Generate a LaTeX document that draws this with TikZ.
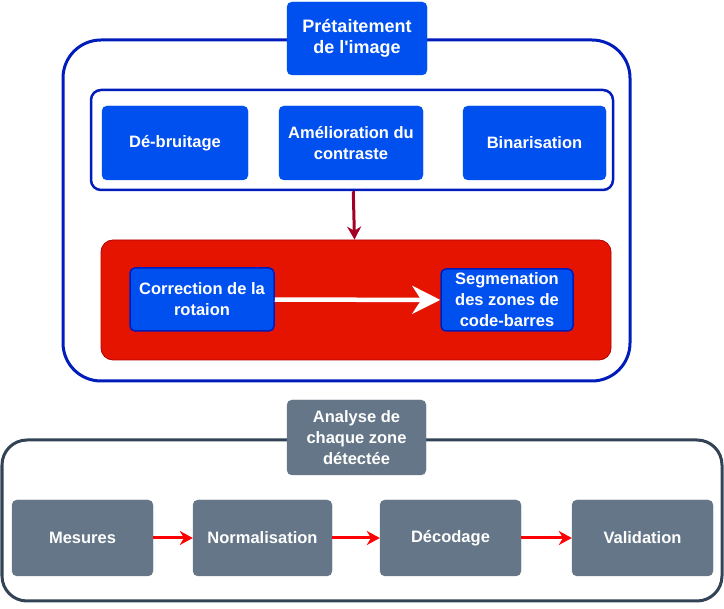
\documentclass[tikz,border=0pt]{standalone}
\usepackage{fontspec}
\setmainfont{Liberation Sans}[Ligatures=TeXOff]
\usetikzlibrary{positioning,arrows.meta}
\definecolor{bluefill}{HTML}{0050EF}
\definecolor{blueline}{HTML}{001DBC}
\definecolor{redfill}{HTML}{E51400}
\definecolor{redline}{HTML}{B20000}
\definecolor{darkred}{HTML}{A20025}
\definecolor{grayfill}{HTML}{647687}
\definecolor{grayline}{HTML}{314354}

\begin{document}
\begin{tikzpicture}[
    x=1pt, y=-1pt,
    panel/.style={draw, line width=3pt, inner sep=0pt},
    stage/.style={draw=bluefill, fill=bluefill, text=white, rounded corners=5pt, align=center,
        font=\fontsize{16.5}{21}\selectfont\bfseries, inner sep=1pt, minimum height=74pt},
    gstage/.style={stage, draw=grayfill, fill=grayfill, minimum width=141pt, minimum height=76pt},
    redarrow/.style={-{Stealth[length=13pt, width=14pt]}, line width=3pt, red}
]
\useasboundingbox (0,0) rectangle (724,609);

% Pretraitement
\node[panel, draw=blueline, rounded corners=38pt, minimum width=567pt, minimum height=341pt] (pre) at (346.5,210.5) {};
\node[stage, minimum width=140pt, minimum height=73pt, font=\fontsize{18}{21}\selectfont\bfseries] (pretitle) at (357,38.5) {Prétaitement\\de l'image};
\node[panel, draw=blueline, line width=2.5pt, rounded corners=10pt, fill=white, minimum width=522pt, minimum height=100pt] (filters) at (352,140) {};
\node[stage, minimum width=146pt] (denoise) at (175,143) {Dé-bruitage};
\node[stage, minimum width=144pt] (contrast) at (351,143) {Amélioration du\\contraste};
\node[stage, minimum width=143pt] (binar) at (534.5,143) {Binarisation};

\node[panel, draw=redline, line width=0.8pt, fill=redfill, rounded corners=12pt, minimum width=510pt, minimum height=120pt] (detect) at (356,300) {};
\node[stage, draw=blueline, line width=1.5pt, minimum width=144pt, minimum height=63pt] (rotation) at (202,299.5) {Correction de la\\rotaion};
\node[stage, draw=blueline, line width=1.5pt, minimum width=132pt, minimum height=62pt] (segment) at (507,300) {Segmenation\\des zones de\\code-barres};

% Analyse
\node[panel, draw=grayline, rounded corners=25pt, minimum width=720pt, minimum height=161pt] (analyse) at (362,520.5) {};
\node[gstage, minimum width=139pt, minimum height=75pt] (antitle) at (356.5,437.5) {Analyse de\\chaque zone\\détectée};
\node[gstage] (measure) at (82.5,538) {Mesures};
\node[gstage, minimum width=139pt] (normal) at (262.5,538) {Normalisation};
\node[gstage] (decode) at (450.5,538) {Décodage};
\node[gstage] (valid) at (642.5,538) {Validation};

% Arrows
\draw[-{Stealth[length=13pt, width=14pt]}, line width=3pt, darkred] (filters) -- (detect);
\draw[-{Stealth[length=28pt, width=28pt, inset=9pt]}, line width=4.5pt, white] (rotation) -- (segment);
\draw[redarrow] (measure) -- (normal);
\draw[redarrow] (normal) -- (decode);
\draw[redarrow] (decode) -- (valid);
\end{tikzpicture}
\end{document}
